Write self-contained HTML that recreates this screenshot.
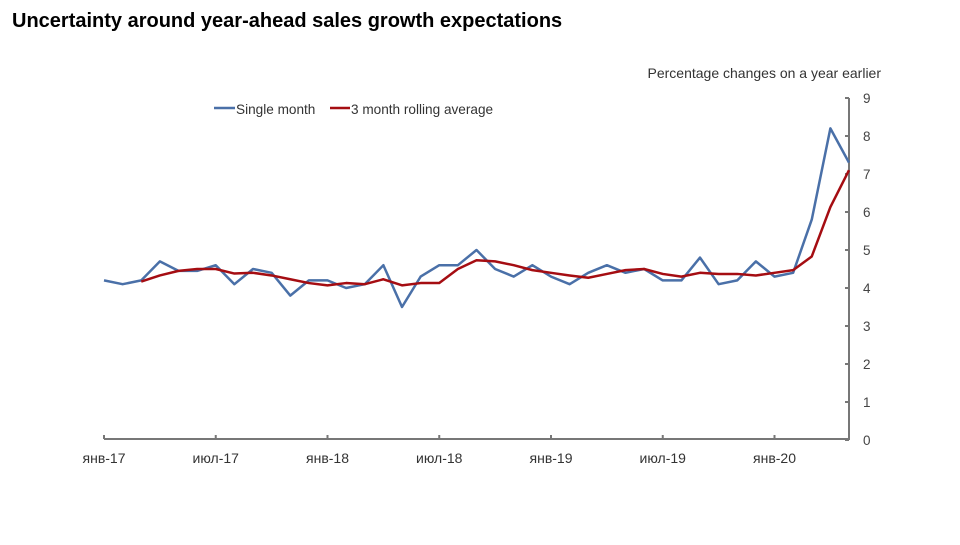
<!DOCTYPE html>
<html><head><meta charset="utf-8"><style>
body{margin:0;background:#fff;font-family:"Liberation Sans",sans-serif}
</style></head><body>
<svg width="960" height="540" xmlns="http://www.w3.org/2000/svg">
<text x="12" y="27" font-size="20" font-weight="bold" fill="#000">Uncertainty around year-ahead sales growth expectations</text>
<text x="881" y="78" font-size="14" text-anchor="end" fill="#333">Percentage changes on a year earlier</text>
<g>
<g><line x1="214" y1="108" x2="235" y2="108" stroke="#4a70a8" stroke-width="2.5"/><text x="236" y="114" font-size="13.6" fill="#333">Single month</text></g>
<g><line x1="330" y1="108" x2="350" y2="108" stroke="#a50d12" stroke-width="2.5"/><text x="351" y="114" font-size="13.6" fill="#333">3 month rolling average</text></g>
</g>
<g id="axes"></g>
<g id="series"></g>
</svg>
<script>
const NS='http://www.w3.org/2000/svg';
const singleMonth=[4.2,4.1,4.2,4.7,4.45,4.45,4.6,4.1,4.5,4.4,3.8,4.2,4.2,4.0,4.1,4.6,3.5,4.3,4.6,4.6,5.0,4.5,4.3,4.6,4.3,4.1,4.4,4.6,4.4,4.5,4.2,4.2,4.8,4.1,4.2,4.7,4.3,4.4,5.8,8.2,7.3];
const rollingStart=2;
const rollingAvg=[4.17,4.33,4.45,4.5,4.5,4.38,4.4,4.33,4.23,4.13,4.07,4.13,4.1,4.23,4.07,4.13,4.13,4.5,4.73,4.7,4.6,4.47,4.4,4.33,4.27,4.37,4.47,4.5,4.37,4.3,4.4,4.37,4.37,4.33,4.4,4.47,4.83,6.13,7.1];
const xTickLabels=['янв-17','июл-17','янв-18','июл-18','янв-19','июл-19','янв-20'];
const xTickStep=6;
const yTicks=[0,1,2,3,4,5,6,7,8,9];
const X0=104,X1=849,Y0=440,Y1=98,N=singleMonth.length-1;
const x=i=>X0+(X1-X0)*i/N;
const y=v=>Y0-(Y0-Y1)*v/9;
const ax=document.getElementById('axes'),se=document.getElementById('series');
function mk(t,a,p){const e=document.createElementNS(NS,t);for(const k in a)e.setAttribute(k,a[k]);p.appendChild(e);return e;}
let e=mk('line',{x1:X0,y1:439,x2:X1,y2:439,stroke:'#777','stroke-width':2},ax);


e=mk('line',{x1:X1,y1:Y1,x2:X1,y2:440,stroke:'#777','stroke-width':2},ax);


xTickLabels.forEach((l,k)=>{const xx=x(k*xTickStep);
 const t=mk('line',{x1:xx,y1:435,x2:xx,y2:439,stroke:'#777','stroke-width':2},ax);
 
 
 const tx=mk('text',{x:xx,y:463,'font-size':14,'text-anchor':'middle',fill:'#333'},ax);tx.textContent=l;
 
 
});
yTicks.forEach(v=>{const yy=y(v);
 const t=mk('line',{x1:X1-4,y1:yy,x2:X1,y2:yy,stroke:'#777','stroke-width':2},ax);
 
 
 const tx=mk('text',{x:863,y:yy+5,'font-size':13.5,fill:'#444'},ax);tx.textContent=v;
 
 
});
let p=mk('polyline',{points:singleMonth.map((v,i)=>x(i)+','+y(v)).join(' '),fill:'none',stroke:'#4a70a8','stroke-width':2.5,'stroke-linejoin':'round'},se);


p=mk('polyline',{points:rollingAvg.map((v,i)=>x(i+rollingStart)+','+y(v)).join(' '),fill:'none',stroke:'#a50d12','stroke-width':2.5,'stroke-linejoin':'round'},se);


</script>
</body></html>
